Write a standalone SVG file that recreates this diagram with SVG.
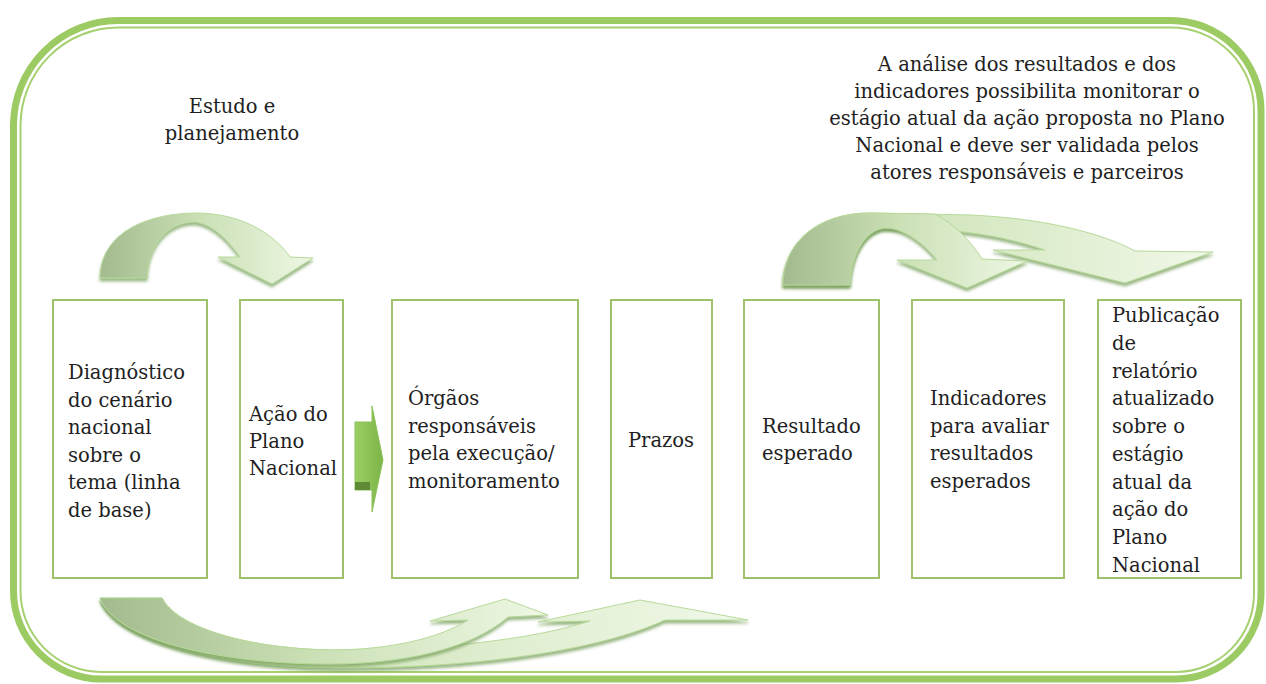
<svg xmlns="http://www.w3.org/2000/svg" width="1266" height="684" viewBox="0 0 1266 684">
<defs>
<linearGradient id="ag" x1="0" y1="0" x2="1" y2="0">
<stop offset="0" stop-color="#A2BA8E"/>
<stop offset="0.45" stop-color="#C9DFB3"/>
<stop offset="1" stop-color="#EEF7E4"/>
</linearGradient>
<linearGradient id="ag2" x1="0" y1="0" x2="1" y2="0">
<stop offset="0" stop-color="#A9C197"/>
<stop offset="0.35" stop-color="#D2E6BD"/>
<stop offset="1" stop-color="#F1F8E9"/>
</linearGradient>
<linearGradient id="small" x1="0" y1="0" x2="1" y2="0">
<stop offset="0" stop-color="#9BCF64"/>
<stop offset="1" stop-color="#7DB447"/>
</linearGradient>
<filter id="sh" x="-10%" y="-20%" width="120%" height="150%">
<feDropShadow dx="0" dy="3" stdDeviation="1.5" flood-color="#6F9A52" flood-opacity="0.7"/>
</filter>
<style>
.frame{fill:none;stroke:#9CCB64;stroke-width:7}
.frame2{fill:none;stroke:#A6D070;stroke-width:2}
.box{fill:#FFFFFF;stroke:#9DC26A;stroke-width:2}
.arr{stroke:#B7DA9A;stroke-width:1;filter:url(#sh)}
text{font-family:"DejaVu Serif","Liberation Serif",serif;font-size:19.5px;fill:#221E22}
.c{text-anchor:middle}
</style>
</defs>
<g id="frame">
<path class="frame" d="M118,20.5 L1171,20.5 A90,90 0 0 1 1261,110.5 L1261,594 A85,85 0 0 1 1176,679 L101,679 A88,88 0 0 1 13.5,591 L13.5,125.5 A105,105 0 0 1 118,20.5 Z"/>
<path class="frame2" d="M118,27.5 L1171,27.5 A83,83 0 0 1 1254,110.5 L1254,594 A78,78 0 0 1 1176,672 L101,672 A81,81 0 0 1 20.5,591 L20.5,125.5 A98,98 0 0 1 118,27.5 Z"/>
</g>
<g id="labels">
<text class="c" x="232" y="113">Estudo e</text>
<text class="c" x="232" y="140">planejamento</text>
<text class="c" x="1027" y="71">A análise dos resultados e dos</text>
<text class="c" x="1027" y="98">indicadores possibilita monitorar o</text>
<text class="c" x="1027" y="125">estágio atual da ação proposta no Plano</text>
<text class="c" x="1027" y="152">Nacional e deve ser validada pelos</text>
<text class="c" x="1027" y="179">atores responsáveis e parceiros</text>
</g>
<g id="connectors">
<path class="arr" fill="url(#ag)" d="M100,278 C100,240 135,214 195,213 C240,213 272,232 290,257 L313,258 L272,284 L218,257 L240,257 C228,240 212,224 195,222 C168,222 148,245 147,278 Z"/>
<path class="arr" fill="url(#ag2)" d="M783,285 C783,245 815,213 870,213 L970,215 C1040,218 1100,232 1135,251 L1213,252 L1125,283 L993,250 L1045,250 C1010,238 975,232 940,230 L885,228 C865,230 851,255 850,285 Z"/>
<path class="arr" fill="url(#ag)" d="M783,285 C783,245 815,213 870,213 L935,214 C955,225 970,240 982,259 L1027,261 L967,288 L897,260 L937,260 C925,245 905,228 885,228 C865,230 851,255 850,285 Z"/>
<path class="arr" fill="url(#ag2)" d="M100,598 L162,598 C175,625 240,648 330,650 C440,650 530,640 590,621 L538,622 L640,600 L748,620 L665,620 C600,650 480,668 340,668 C220,668 115,640 100,598 Z"/>
<path class="arr" fill="url(#ag)" d="M100,598 L162,598 C175,625 240,648 330,650 C390,650 440,638 468,620 L430,621 L505,599 L548,615 L508,617 C470,650 400,664 330,664 C220,664 115,640 100,598 Z"/>
<path fill="url(#small)" stroke="#8CC25A" stroke-width="1" d="M355,422 L372,422 L372,406 L383,460 L372,512 L372,490 L355,490 Z"/>
<rect x="355" y="482" width="15" height="8" fill="#5E8A35"/>
</g>
<g id="n1"><rect class="box" x="53" y="300" width="154" height="278"/>
<text x="68" y="379">Diagnóstico</text><text x="68" y="406.5">do cenário</text><text x="68" y="434">nacional</text><text x="68" y="461.5">sobre o</text><text x="68" y="489">tema (linha</text><text x="68" y="516.5">de base)</text></g>
<g id="n2"><rect class="box" x="240" y="300" width="103" height="278"/>
<text x="249" y="421">Ação do</text><text x="249" y="448">Plano</text><text x="249" y="475">Nacional</text></g>
<g id="n3"><rect class="box" x="392" y="300" width="186" height="278"/>
<text x="408" y="405">Órgãos</text><text x="408" y="432.5">responsáveis</text><text x="408" y="460">pela execução/</text><text x="408" y="487.5">monitoramento</text></g>
<g id="n4"><rect class="box" x="611" y="300" width="101" height="278"/>
<text class="c" x="661" y="447">Prazos</text></g>
<g id="n5"><rect class="box" x="744" y="300" width="135" height="278"/>
<text x="762" y="433">Resultado</text><text x="762" y="460">esperado</text></g>
<g id="n6"><rect class="box" x="912" y="300" width="152" height="278"/>
<text x="930" y="405">Indicadores</text><text x="930" y="432.5">para avaliar</text><text x="930" y="460">resultados</text><text x="930" y="487.5">esperados</text></g>
<g id="n7"><rect class="box" x="1098" y="300" width="143" height="278"/>
<text x="1112" y="322">Publicação</text><text x="1112" y="349.8">de</text><text x="1112" y="377.6">relatório</text><text x="1112" y="405.3">atualizado</text><text x="1112" y="433.1">sobre o</text><text x="1112" y="460.9">estágio</text><text x="1112" y="488.7">atual da</text><text x="1112" y="516.4">ação do</text><text x="1112" y="544.2">Plano</text><text x="1112" y="572">Nacional</text></g>
</svg>
